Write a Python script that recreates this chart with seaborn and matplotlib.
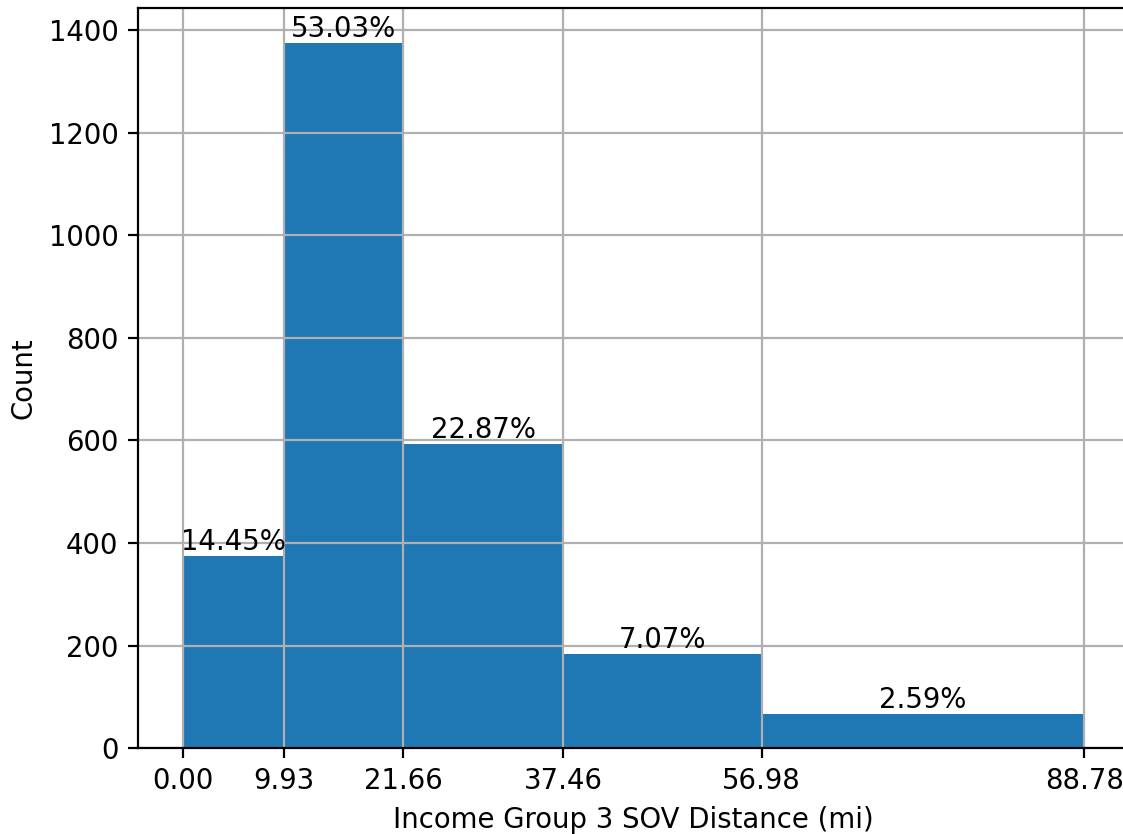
import matplotlib
matplotlib.use("Agg")
import matplotlib.pyplot as plt
import numpy as np
import pandas as pd
import seaborn as sns

# Distance bin edges (miles) and share of trips falling in each bin
bin_edges = [0.00, 9.93, 21.66, 37.46, 56.98, 88.78]
pct_labels = ["14.45%", "53.03%", "22.87%", "7.07%", "2.59%"]
pct_values = [14.45, 53.03, 22.87, 7.07, 2.59]
total_trips = 2593

x_label = "Income Group 3 SOV Distance (mi)"
y_label = "Count"

edges = np.array(bin_edges)
mids = (edges[:-1] + edges[1:]) / 2
counts = np.array(pct_values) / 100.0 * total_trips
df = pd.DataFrame({"distance": mids, "count": counts})

dpi = 198
fig = plt.figure(figsize=(1123 / dpi, 834 / dpi), dpi=dpi)
ax = fig.add_axes([0.1228, 0.1031, 0.883, 0.8873])

sns.histplot(data=df, x="distance", weights="count", bins=list(bin_edges),
             color="#1f77b4", alpha=1.0, linewidth=0, edgecolor="none", ax=ax)

# percentage label above each bar
for m, c, lab in zip(mids, counts, pct_labels):
    ax.text(m, c, lab, ha="center", va="bottom", fontsize=10, color="black")

span = edges[-1] - edges[0]
ax.set_xlim(edges[0] - 0.05 * span, edges[-1] + 0.05 * span)
ax.set_ylim(0, counts.max() * 1.05)
ax.set_xticks(edges)
ax.set_xticklabels([f"{e:.2f}" for e in edges])
ax.set_yticks(np.arange(0, 1401, 200))
ax.grid(True, color="#b0b0b0", linewidth=0.8)
ax.set_axisbelow("line")
ax.spines["right"].set_visible(False)
ax.set_xlabel(x_label)
ax.set_ylabel(y_label)

fig.savefig("out.png", dpi=dpi)
